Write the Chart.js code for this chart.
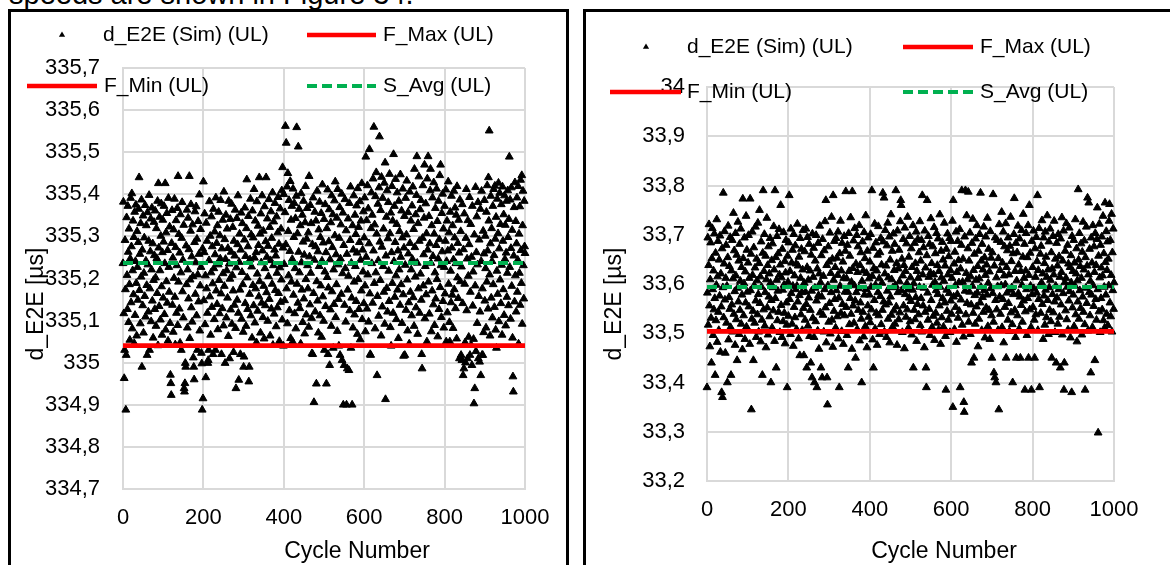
<!DOCTYPE html>
<html>
<head>
<meta charset="utf-8">
<title>d_E2E per cycle</title>
<script src="https://cdn.jsdelivr.net/npm/chart.js@4.4.1/dist/chart.umd.min.js"></script>
<style>
  html, body { margin: 0; padding: 0; background: #fff; }
  body { width: 1170px; height: 565px; overflow: hidden; position: relative;
         font-family: "Liberation Sans", Arial, Helvetica, sans-serif; }
  .lead { position: absolute; left: 9px; top: -20px; font-size: 29px; line-height: 29px;
          white-space: nowrap; color: #000; }
  .box { position: absolute; box-sizing: border-box; border: 3px solid #000; border-bottom: none; }
  #boxL { left: 8px; top: 9px; width: 561px; height: 600px; }
  #boxR { left: 583px; top: 9px; width: 700px; height: 600px; border-right: none; }
  canvas { position: absolute; top: 0; }
  #chartL { left: 0; }
  #chartR { left: 583px; }
</style>
</head>
<body>
<div class="lead">speeds are shown in Figure 34.</div>
<div class="box" id="boxL"></div>
<div class="box" id="boxR"></div>
<canvas id="chartL" width="570" height="565"></canvas>
<canvas id="chartR" width="587" height="565"></canvas>
<script>
// Cycle axis (shared by both panels)
const cycleTicks = [0, 200, 400, 600, 800, 1000];
const cycleTickLabels = ['0', '200', '400', '600', '800', '1000'];

// Left panel: delay axis
const leftDelayTicks = [334.7, 334.8, 334.9, 335.0, 335.1, 335.2, 335.3, 335.4, 335.5, 335.6, 335.7];
const leftDelayTickLabels = ['334,7', '334,8', '334,9', '335', '335,1', '335,2', '335,3', '335,4', '335,5', '335,6', '335,7'];

// Left panel: simulated end-to-end delay per cycle (cycles 0..1000)
const leftSimDelay = [
  335.236, 335.382, 335.117, 334.963, 335.030, 335.291, 335.174, 334.888, 335.018, 335.345, 335.208, 335.127, 335.372, 335.263, 335.096, 335.318, 335.186, 335.054, 335.247, 335.391,
  335.143, 335.276, 335.402, 335.081, 335.219, 335.337, 335.162, 335.298, 335.046, 335.358, 335.113, 335.241, 335.375, 335.189, 335.064, 335.312, 335.227, 335.149, 335.286, 335.365,
  335.440, 335.172, 335.258, 335.093, 335.331, 335.204, 335.387, 334.990, 335.268, 335.136, 335.349, 335.071, 335.213, 335.297, 335.158, 335.374, 335.109, 335.242, 335.326, 335.184,
  335.018, 335.357, 335.233, 335.121, 335.289, 335.398, 335.030, 335.176, 335.264, 335.342, 335.098, 335.221, 335.368, 335.147, 335.283, 335.059, 335.196, 335.334, 335.255, 335.127,
  335.361, 335.202, 335.087, 335.319, 335.248, 335.165, 335.384, 335.041, 335.426, 335.273, 335.134, 335.346, 335.219, 335.102, 335.301, 335.378, 335.181, 335.066, 335.262, 335.339,
  335.154, 335.287, 335.372, 335.115, 335.236, 335.426, 335.078, 335.309, 335.193, 335.355, 335.142, 335.267, 335.052, 335.391, 335.227, 335.168, 335.323, 335.094, 334.971, 334.951,
  334.923, 335.284, 335.362, 335.137, 335.249, 335.073, 335.316, 335.201, 335.389, 335.156, 335.043, 335.274, 335.338, 335.118, 335.231, 335.367, 335.089, 335.443, 335.192, 335.305,
  335.128, 335.261, 335.047, 335.352, 335.214, 335.030, 335.296, 335.381, 335.169, 335.244, 335.107, 335.327, 334.939, 334.931, 334.951, 334.999, 334.990, 335.278, 335.186, 335.363,
  335.083, 335.221, 335.344, 335.152, 335.269, 335.443, 335.058, 335.197, 335.313, 335.376, 335.131, 335.252, 335.097, 335.328, 335.205, 335.012, 334.990, 334.960, 335.286, 335.359,
  335.163, 335.238, 335.371, 335.112, 335.294, 335.030, 335.209, 335.336, 335.145, 335.258, 335.399, 335.076, 335.183, 335.317, 335.227, 335.023, 334.998, 334.888, 335.271, 334.915,
  335.430, 335.148, 335.262, 335.354, 335.091, 335.207, 334.965, 335.332, 335.176, 335.289, 335.118, 334.999, 335.006, 335.030, 335.243, 335.383, 335.157, 335.301, 335.066, 335.214,
  335.347, 335.132, 335.276, 335.188, 335.020, 335.365, 335.224, 335.103, 335.311, 335.257, 335.030, 335.392, 335.171, 335.284, 335.139, 335.326, 335.079, 335.233, 335.358, 335.196,
  335.117, 335.302, 335.247, 335.386, 335.164, 335.020, 335.271, 335.129, 335.339, 335.212, 335.088, 335.406, 335.182, 335.293, 334.999, 335.246, 335.351, 335.107, 335.219, 335.318,
  335.154, 335.272, 335.063, 335.384, 335.235, 335.010, 335.199, 335.341, 335.126, 335.263, 335.377, 335.092, 335.208, 335.322, 335.171, 335.025, 335.289, 335.137, 335.254, 335.363,
  335.082, 334.939, 335.226, 335.343, 335.149, 335.281, 335.397, 335.118, 334.959, 335.239, 335.306, 335.173, 335.020, 335.268, 335.356, 335.104, 335.215, 335.331, 335.186, 335.073,
  334.990, 335.014, 335.292, 335.368, 335.141, 335.253, 335.087, 335.319, 335.435, 335.202, 335.127, 335.276, 335.348, 334.955, 334.990, 335.163, 335.245, 335.389, 335.112, 335.304,
  335.228, 335.059, 335.361, 335.184, 335.297, 335.136, 335.412, 335.249, 335.095, 335.337, 335.176, 335.262, 335.048, 335.383, 335.211, 335.123, 335.325, 335.279, 335.157, 335.440,
  335.193, 335.306, 335.071, 335.354, 335.238, 335.142, 335.397, 335.266, 335.108, 335.313, 335.182, 335.057, 335.371, 335.224, 335.136, 335.288, 335.440, 335.167, 335.251, 335.342,
  335.099, 335.277, 335.205, 335.388, 335.151, 335.322, 335.064, 335.243, 335.359, 335.128, 335.296, 335.187, 335.404, 335.042, 335.231, 335.335, 335.116, 335.268, 335.379, 335.172,
  335.254, 335.086, 335.347, 335.213, 335.131, 335.309, 335.393, 335.165, 335.282, 335.051, 335.226, 335.366, 335.144, 335.318, 335.197, 335.409, 335.102, 335.464, 335.273, 335.040,
  335.400, 335.234, 335.148, 335.357, 335.562, 335.281, 335.522, 335.176, 335.418, 335.093, 335.450, 335.312, 335.207, 335.386, 335.124, 335.265, 335.431, 335.058, 335.339, 335.192,
  335.372, 335.246, 335.050, 335.413, 335.161, 335.298, 335.379, 335.117, 335.224, 335.343, 335.081, 335.396, 335.559, 335.187, 335.307, 335.142, 335.513, 335.263, 335.365, 335.214,
  335.129, 335.326, 335.045, 335.402, 335.238, 335.173, 335.351, 335.096, 335.287, 335.384, 335.152, 335.256, 335.069, 335.333, 335.419, 335.198, 335.114, 335.294, 335.367, 335.231,
  335.176, 335.309, 335.085, 335.443, 335.252, 335.138, 335.374, 335.213, 335.331, 335.106, 335.022, 335.281, 335.020, 335.392, 335.165, 334.906, 335.244, 335.358, 335.121, 335.276,
  335.337, 334.950, 335.193, 335.408, 335.147, 335.264, 335.071, 335.316, 335.229, 335.382, 335.112, 335.298, 335.183, 335.355, 335.061, 335.242, 335.423, 335.157, 335.285, 335.099,
  335.341, 335.030, 335.216, 335.376, 335.134, 335.262, 334.950, 335.319, 335.203, 335.411, 335.020, 335.178, 335.288, 335.364, 334.994, 335.245, 335.126, 335.333, 335.087, 335.397,
  335.169, 335.274, 335.352, 335.035, 335.221, 335.139, 335.385, 335.302, 335.430, 335.108, 335.257, 335.186, 335.344, 335.075, 335.412, 335.233, 335.151, 335.040, 335.296, 335.369,
  335.018, 335.247, 335.328, 335.163, 335.401, 335.006, 335.212, 335.356, 334.900, 335.279, 334.994, 335.137, 335.388, 335.224, 335.097, 335.314, 334.900, 335.258, 334.986, 335.173,
  335.342, 335.206, 334.982, 335.379, 335.124, 335.291, 335.418, 335.035, 335.237, 335.154, 334.900, 335.326, 335.083, 335.268, 335.397, 335.192, 335.114, 335.351, 335.229, 335.305,
  335.146, 335.373, 335.261, 335.068, 335.414, 335.198, 335.322, 335.127, 335.286, 335.383, 335.055, 335.244, 335.337, 335.171, 335.426, 335.103, 335.268, 335.216, 335.359, 335.141,
  335.297, 335.392, 335.183, 335.074, 335.489, 335.251, 335.338, 335.128, 335.421, 335.209, 335.366, 335.097, 335.283, 335.507, 335.164, 335.020, 335.018, 335.319, 335.404, 335.236,
  335.351, 335.142, 335.437, 335.266, 335.560, 335.189, 335.328, 335.081, 335.395, 335.214, 335.452, 335.306, 334.970, 335.158, 335.377, 335.243, 335.111, 335.416, 335.537, 335.287,
  335.196, 335.362, 335.064, 335.441, 335.275, 335.133, 335.391, 335.229, 335.318, 335.168, 335.427, 335.092, 335.475, 334.913, 335.254, 335.346, 335.177, 335.409, 335.121, 335.295,
  335.381, 335.218, 335.146, 335.448, 335.307, 335.084, 335.356, 335.040, 335.262, 335.419, 335.189, 335.337, 335.118, 335.495, 335.241, 335.372, 335.156, 335.286, 335.436, 335.207,
  335.103, 335.329, 335.404, 335.173, 335.266, 335.058, 335.384, 335.221, 335.312, 335.137, 335.447, 335.251, 335.186, 335.361, 335.094, 335.297, 335.413, 335.162, 335.016, 335.273,
  335.348, 335.018, 335.232, 335.391, 335.125, 335.304, 335.432, 335.197, 335.076, 335.357, 335.259, 335.143, 335.045, 335.406, 335.284, 335.168, 335.337, 335.221, 335.112, 335.373,
  335.246, 335.418, 335.155, 335.317, 335.087, 335.460, 335.274, 335.204, 335.352, 335.131, 335.398, 335.490, 335.237, 335.068, 335.331, 335.176, 335.442, 335.289, 335.118, 335.364,
  335.211, 335.386, 335.149, 335.020, 334.986, 335.296, 335.421, 335.183, 335.257, 335.344, 335.470, 335.105, 335.229, 335.378, 335.162, 335.307, 335.050, 335.437, 335.268, 335.490,
  335.192, 335.348, 335.116, 335.283, 335.409, 335.460, 335.237, 335.074, 335.326, 335.171, 335.392, 335.253, 335.138, 335.428, 335.306, 335.089, 335.214, 335.367, 335.152, 335.279,
  335.413, 335.198, 335.336, 335.062, 335.247, 335.384, 335.127, 335.293, 335.445, 335.179, 335.470, 335.231, 335.108, 335.355, 335.264, 335.401, 335.146, 335.318, 335.083, 335.227,
  335.372, 335.164, 335.289, 335.411, 335.050, 335.241, 335.337, 335.119, 335.266, 335.430, 335.187, 335.309, 335.096, 335.050, 335.358, 335.218, 335.143, 335.396, 335.273, 335.161,
  335.326, 335.082, 335.245, 335.408, 335.174, 335.297, 335.368, 335.129, 335.236, 335.351, 335.057, 335.419, 335.202, 335.284, 335.153, 335.339, 335.261, 335.010, 335.387, 335.193,
  335.312, 335.018, 335.228, 335.006, 335.376, 335.141, 334.970, 335.269, 334.986, 335.354, 335.187, 335.048, 335.000, 335.296, 335.412, 335.124, 335.247, 335.010, 335.338, 335.206,
  335.061, 335.281, 335.393, 335.018, 335.168, 335.329, 335.042, 335.251, 334.994, 335.372, 335.135, 335.216, 335.056, 334.903, 335.304, 334.939, 335.183, 335.417, 335.027, 335.262,
  335.347, 335.094, 335.233, 335.381, 335.010, 335.158, 335.292, 335.002, 335.121, 335.365, 334.970, 335.241, 335.408, 335.018, 335.176, 335.018, 335.313, 335.072, 335.259, 335.386,
  335.147, 335.301, 335.224, 335.083, 335.358, 335.192, 335.421, 335.266, 335.128, 335.440, 335.337, 335.551, 335.209, 335.064, 335.283, 335.396, 335.154, 335.319, 335.241, 335.107,
  335.372, 335.186, 335.412, 335.255, 335.132, 335.420, 335.294, 335.078, 335.346, 335.035, 335.218, 335.389, 335.163, 335.307, 335.427, 335.098, 335.271, 335.403, 335.197, 335.329,
  335.141, 335.376, 335.232, 335.066, 335.418, 335.289, 335.174, 335.352, 335.113, 335.397, 335.246, 335.327, 335.088, 335.261, 335.384, 335.156, 335.213, 335.409, 335.298, 335.136,
  335.341, 335.489, 335.227, 335.387, 335.104, 335.272, 335.416, 335.182, 335.315, 335.059, 334.967, 334.931, 335.254, 335.369, 335.145, 335.428, 335.207, 335.336, 335.121, 335.283,
  335.392, 335.168, 335.244, 335.419, 335.045, 335.306, 335.213, 335.371, 335.137, 335.434, 335.267, 335.189, 335.445, 335.092, 335.326, 335.408, 335.231, 335.152, 335.384, 335.276,
  335.260
];
const leftFMax = 335.04;
const leftFMin = 335.04;
const leftSAvg = 335.237;

// Right panel: delay axis
const rightDelayTicks = [33.2, 33.3, 33.4, 33.5, 33.6, 33.7, 33.8, 33.9, 34.0];
const rightDelayTickLabels = ['33,2', '33,3', '33,4', '33,5', '33,6', '33,7', '33,8', '33,9', '34'];

// Right panel: simulated end-to-end delay per cycle (cycles 0..1000)
const rightSimDelay = [
  33.390, 33.582, 33.694, 33.517, 33.638, 33.721, 33.556, 33.473, 33.609, 33.684, 33.531, 33.440, 33.652, 33.713, 33.589, 33.496, 33.627, 33.548, 33.702, 33.571,
  33.415, 33.663, 33.526, 33.598, 33.731, 33.482, 33.615, 33.687, 33.543, 33.506, 33.649, 33.576, 33.698, 33.462, 33.621, 33.554, 33.380, 33.672, 33.370, 33.593,
  33.785, 33.532, 33.641, 33.707, 33.568, 33.460, 33.612, 33.679, 33.521, 33.596, 33.400, 33.654, 33.718, 33.487, 33.573, 33.636, 33.549, 33.695, 33.512, 33.415,
  33.627, 33.558, 33.689, 33.503, 33.611, 33.744, 33.539, 33.668, 33.585, 33.476, 33.703, 33.617, 33.528, 33.659, 33.445, 33.592, 33.726, 33.564, 33.647, 33.498,
  33.681, 33.547, 33.606, 33.712, 33.519, 33.634, 33.578, 33.467, 33.773, 33.652, 33.536, 33.601, 33.694, 33.488, 33.625, 33.562, 33.738, 33.513, 33.669, 33.584,
  33.507, 33.643, 33.699, 33.554, 33.612, 33.478, 33.773, 33.587, 33.661, 33.345, 33.529, 33.706, 33.618, 33.545, 33.445, 33.674, 33.597, 33.521, 33.633, 33.716,
  33.566, 33.492, 33.651, 33.607, 33.538, 33.724, 33.579, 33.503, 33.642, 33.750, 33.561, 33.615, 33.483, 33.686, 33.594, 33.527, 33.415, 33.663, 33.790, 33.548,
  33.626, 33.701, 33.515, 33.583, 33.657, 33.471, 33.609, 33.734, 33.552, 33.638, 33.497, 33.676, 33.574, 33.621, 33.534, 33.693, 33.602, 33.400, 33.567, 33.648,
  33.511, 33.682, 33.593, 33.546, 33.717, 33.629, 33.484, 33.790, 33.571, 33.654, 33.430, 33.608, 33.697, 33.526, 33.586, 33.662, 33.543, 33.711, 33.619, 33.502,
  33.639, 33.760, 33.557, 33.613, 33.492, 33.671, 33.588, 33.524, 33.705, 33.598, 33.541, 33.646, 33.479, 33.623, 33.689, 33.562, 33.517, 33.390, 33.657, 33.604,
  33.535, 33.684, 33.780, 33.569, 33.626, 33.498, 33.712, 33.581, 33.643, 33.519, 33.669, 33.596, 33.474, 33.701, 33.553, 33.617, 33.532, 33.678, 33.589, 33.641,
  33.508, 33.596, 33.722, 33.564, 33.637, 33.489, 33.655, 33.577, 33.455, 33.693, 33.612, 33.538, 33.671, 33.583, 33.506, 33.629, 33.709, 33.551, 33.455, 33.602,
  33.666, 33.527, 33.584, 33.712, 33.559, 33.430, 33.634, 33.695, 33.515, 33.608, 33.572, 33.681, 33.494, 33.627, 33.547, 33.440, 33.659, 33.586, 33.410, 33.702,
  33.531, 33.614, 33.673, 33.492, 33.400, 33.592, 33.647, 33.524, 33.699, 33.566, 33.390, 33.631, 33.505, 33.683, 33.577, 33.468, 33.621, 33.718, 33.542, 33.603,
  33.430, 33.658, 33.574, 33.410, 33.691, 33.537, 33.616, 33.503, 33.668, 33.589, 33.727, 33.552, 33.770, 33.481, 33.638, 33.410, 33.355, 33.597, 33.676, 33.523,
  33.645, 33.561, 33.704, 33.499, 33.622, 33.583, 33.736, 33.527, 33.651, 33.472, 33.780, 33.608, 33.545, 33.687, 33.569, 33.634, 33.511, 33.693, 33.587, 33.653,
  33.534, 33.618, 33.706, 33.489, 33.572, 33.390, 33.662, 33.596, 33.728, 33.541, 33.627, 33.504, 33.683, 33.559, 33.645, 33.478, 33.612, 33.697, 33.536, 33.584,
  33.667, 33.788, 33.553, 33.611, 33.496, 33.679, 33.584, 33.430, 33.703, 33.626, 33.518, 33.657, 33.571, 33.735, 33.539, 33.604, 33.468, 33.788, 33.632, 33.556,
  33.688, 33.521, 33.597, 33.713, 33.566, 33.450, 33.641, 33.583, 33.699, 33.508, 33.624, 33.676, 33.547, 33.591, 33.719, 33.485, 33.638, 33.562, 33.664, 33.529,
  33.400, 33.606, 33.686, 33.543, 33.627, 33.493, 33.705, 33.578, 33.652, 33.514, 33.739, 33.589, 33.622, 33.471, 33.667, 33.556, 33.694, 33.533, 33.611, 33.578,
  33.645, 33.522, 33.701, 33.594, 33.548, 33.790, 33.616, 33.487, 33.673, 33.430, 33.632, 33.567, 33.722, 33.509, 33.598, 33.684, 33.541, 33.627, 33.476, 33.659,
  33.583, 33.717, 33.536, 33.611, 33.498, 33.664, 33.575, 33.693, 33.518, 33.639, 33.602, 33.547, 33.785, 33.686, 33.564, 33.775, 33.503, 33.621, 33.709, 33.558,
  33.637, 33.492, 33.678, 33.586, 33.724, 33.529, 33.613, 33.562, 33.696, 33.481, 33.649, 33.574, 33.741, 33.537, 33.609, 33.667, 33.513, 33.593, 33.702, 33.546,
  33.628, 33.681, 33.519, 33.597, 33.790, 33.554, 33.642, 33.476, 33.708, 33.583, 33.631, 33.528, 33.669, 33.605, 33.542, 33.727, 33.770, 33.760, 33.587, 33.651,
  33.502, 33.617, 33.691, 33.556, 33.638, 33.469, 33.714, 33.579, 33.626, 33.533, 33.682, 33.601, 33.548, 33.736, 33.589, 33.511, 33.655, 33.572, 33.697, 33.524,
  33.613, 33.565, 33.672, 33.497, 33.634, 33.588, 33.719, 33.430, 33.601, 33.547, 33.683, 33.528, 33.642, 33.573, 33.706, 33.484, 33.626, 33.559, 33.691, 33.612,
  33.538, 33.664, 33.594, 33.727, 33.516, 33.647, 33.571, 33.689, 33.503, 33.780, 33.619, 33.556, 33.674, 33.592, 33.471, 33.708, 33.543, 33.633, 33.430, 33.390,
  33.658, 33.770, 33.582, 33.527, 33.697, 33.614, 33.549, 33.681, 33.496, 33.623, 33.733, 33.567, 33.642, 33.512, 33.598, 33.676, 33.535, 33.619, 33.715, 33.486,
  33.604, 33.662, 33.541, 33.587, 33.703, 33.521, 33.638, 33.579, 33.692, 33.507, 33.626, 33.556, 33.741, 33.594, 33.478, 33.667, 33.613, 33.532, 33.685, 33.571,
  33.649, 33.513, 33.606, 33.724, 33.562, 33.637, 33.494, 33.385, 33.671, 33.588, 33.545, 33.702, 33.619, 33.527, 33.656, 33.581, 33.693, 33.502, 33.628, 33.566,
  33.687, 33.539, 33.612, 33.728, 33.350, 33.770, 33.574, 33.641, 33.508, 33.665, 33.597, 33.553, 33.706, 33.482, 33.624, 33.579, 33.687, 33.531, 33.648, 33.603,
  33.545, 33.711, 33.390, 33.631, 33.568, 33.679, 33.790, 33.517, 33.604, 33.651, 33.493, 33.360, 33.340, 33.696, 33.586, 33.790, 33.538, 33.622, 33.739, 33.561,
  33.609, 33.672, 33.787, 33.523, 33.647, 33.584, 33.704, 33.498, 33.615, 33.558, 33.440, 33.683, 33.596, 33.732, 33.541, 33.628, 33.450, 33.661, 33.577, 33.519,
  33.692, 33.608, 33.554, 33.719, 33.582, 33.636, 33.473, 33.667, 33.529, 33.611, 33.701, 33.562, 33.785, 33.594, 33.647, 33.506, 33.681, 33.573, 33.629, 33.543,
  33.716, 33.587, 33.654, 33.491, 33.618, 33.696, 33.552, 33.639, 33.578, 33.734, 33.514, 33.602, 33.671, 33.547, 33.625, 33.488, 33.707, 33.591, 33.653, 33.536,
  33.450, 33.664, 33.581, 33.782, 33.523, 33.420, 33.637, 33.410, 33.694, 33.567, 33.400, 33.613, 33.548, 33.689, 33.595, 33.506, 33.652, 33.345, 33.721, 33.574,
  33.628, 33.539, 33.685, 33.597, 33.746, 33.512, 33.643, 33.569, 33.706, 33.481, 33.617, 33.676, 33.553, 33.599, 33.723, 33.450, 33.634, 33.582, 33.668, 33.527,
  33.694, 33.561, 33.619, 33.504, 33.677, 33.588, 33.736, 33.542, 33.646, 33.593, 33.518, 33.400, 33.662, 33.579, 33.701, 33.774, 33.547, 33.626, 33.492, 33.683,
  33.450, 33.607, 33.664, 33.536, 33.718, 33.581, 33.639, 33.509, 33.692, 33.574, 33.450, 33.626, 33.557, 33.709, 33.598, 33.523, 33.655, 33.742, 33.566, 33.612,
  33.681, 33.385, 33.544, 33.627, 33.703, 33.589, 33.496, 33.654, 33.571, 33.719, 33.450, 33.618, 33.760, 33.548, 33.663, 33.596, 33.512, 33.385, 33.687, 33.579,
  33.634, 33.553, 33.708, 33.591, 33.527, 33.450, 33.672, 33.614, 33.538, 33.695, 33.582, 33.646, 33.780, 33.506, 33.628, 33.569, 33.713, 33.390, 33.597, 33.661,
  33.541, 33.677, 33.603, 33.729, 33.559, 33.621, 33.488, 33.694, 33.576, 33.642, 33.517, 33.706, 33.588, 33.655, 33.532, 33.614, 33.739, 33.567, 33.629, 33.498,
  33.686, 33.593, 33.547, 33.712, 33.608, 33.524, 33.664, 33.450, 33.631, 33.579, 33.697, 33.542, 33.619, 33.728, 33.564, 33.502, 33.651, 33.596, 33.440, 33.683,
  33.572, 33.637, 33.519, 33.701, 33.589, 33.656, 33.533, 33.614, 33.430, 33.692, 33.558, 33.624, 33.735, 33.497, 33.647, 33.581, 33.708, 33.385, 33.440, 33.603,
  33.667, 33.546, 33.612, 33.723, 33.528, 33.594, 33.679, 33.507, 33.641, 33.566, 33.714, 33.585, 33.634, 33.491, 33.658, 33.603, 33.380, 33.697, 33.552, 33.626,
  33.578, 33.689, 33.514, 33.643, 33.596, 33.731, 33.538, 33.621, 33.672, 33.483, 33.607, 33.564, 33.792, 33.649, 33.529, 33.703, 33.587, 33.636, 33.551, 33.682,
  33.612, 33.497, 33.665, 33.574, 33.726, 33.543, 33.629, 33.688, 33.518, 33.385, 33.654, 33.592, 33.716, 33.561, 33.637, 33.775, 33.505, 33.619, 33.765, 33.583,
  33.671, 33.536, 33.606, 33.420, 33.694, 33.578, 33.643, 33.512, 33.719, 33.597, 33.555, 33.676, 33.624, 33.445, 33.703, 33.569, 33.638, 33.527, 33.691, 33.755,
  33.589, 33.298, 33.657, 33.544, 33.722, 33.613, 33.502, 33.679, 33.571, 33.633, 33.696, 33.548, 33.617, 33.738, 33.526, 33.662, 33.594, 33.511, 33.765, 33.644,
  33.578, 33.707, 33.539, 33.628, 33.686, 33.516, 33.651, 33.597, 33.728, 33.762, 33.562, 33.689, 33.534, 33.618, 33.742, 33.503, 33.664, 33.587, 33.712, 33.549,
  33.603
];
const rightFMax = 33.504;
const rightFMin = 33.504;
const rightSAvg = 33.594;

const FONT = '"Liberation Sans", Arial, Helvetica, sans-serif';
const GRID = '#d9d9d9';

// Two-row legend drawn inside the chart box, above the plot
const panelLegend = {
  id: 'panelLegend',
  afterDraw(chart, args, opts) {
    const ctx = chart.ctx;
    ctx.save();
    ctx.font = '21px ' + FONT;
    ctx.textBaseline = 'middle';
    ctx.textAlign = 'left';
    for (const it of opts.items) {
      const ds = chart.data.datasets[it.dataset];
      if (ds.showLine) {
        ctx.strokeStyle = ds.borderColor;
        ctx.lineWidth = ds.borderWidth;
        ctx.lineCap = 'butt';
        ctx.setLineDash(ds.borderDash || []);
        ctx.beginPath();
        ctx.moveTo(it.x0, it.y);
        ctx.lineTo(it.x1, it.y);
        ctx.stroke();
        ctx.setLineDash([]);
      } else {
        const cx = (it.x0 + it.x1) / 2, r = 3.6;
        ctx.fillStyle = ds.pointBackgroundColor;
        ctx.beginPath();
        ctx.moveTo(cx, it.y - r);
        ctx.lineTo(cx + r * 0.866, it.y + r / 2);
        ctx.lineTo(cx - r * 0.866, it.y + r / 2);
        ctx.closePath();
        ctx.fill();
      }
      ctx.fillStyle = '#000';
      ctx.fillText(ds.label, it.tx, it.y);
    }
    ctx.restore();
  }
};

// Axis titles placed at fixed spots of the chart box
const panelTitles = {
  id: 'panelTitles',
  afterDraw(chart, args, o) {
    const ctx = chart.ctx;
    ctx.save();
    ctx.font = '23px ' + FONT;
    ctx.fillStyle = '#000';
    ctx.textAlign = 'center';
    ctx.textBaseline = 'middle';
    ctx.fillText(o.x.text, o.x.cx, o.x.cy);
    ctx.translate(o.y.cx, o.y.cy);
    ctx.rotate(-Math.PI / 2);
    ctx.fillText(o.y.text, 0, 0);
    ctx.restore();
  }
};

function buildPanel(canvasId, d, lay) {
  const points = d.sim.map((v, i) => ({ x: i, y: v }));
  const level = v => [{ x: cycleTicks[0], y: v }, { x: cycleTicks[cycleTicks.length - 1], y: v }];
  const tickFont = { family: FONT, size: 22 };
  return new Chart(document.getElementById(canvasId), {
    type: 'scatter',
    data: {
      datasets: [
        // markers sit underneath the reference lines
        { label: 'd_E2E (Sim) (UL)', data: points, showLine: false, clip: false, order: 1,
          pointStyle: 'triangle', pointRadius: 4.5, pointHoverRadius: 4.5,
          pointBackgroundColor: '#000', pointBorderColor: '#000', pointBorderWidth: 1 },
        { label: 'F_Max (UL)', data: level(d.fMax), showLine: true, borderColor: '#ff0000', order: 0,
          borderWidth: 4.5, pointRadius: 0, borderCapStyle: 'butt' },
        { label: 'F_Min (UL)', data: level(d.fMin), showLine: true, borderColor: '#ff0000', order: 0,
          borderWidth: 4.5, pointRadius: 0, borderCapStyle: 'butt' },
        { label: 'S_Avg (UL)', data: level(d.sAvg), showLine: true, borderColor: '#00b050', order: 0,
          borderWidth: 4, borderDash: [10, 5], pointRadius: 0, borderCapStyle: 'butt' }
      ]
    },
    options: {
      responsive: false,
      animation: false,
      devicePixelRatio: 1,
      events: [],
      layout: { padding: { left: 0, top: lay.top, right: lay.right, bottom: 0 } },
      plugins: {
        legend: { display: false },
        tooltip: { enabled: false },
        panelLegend: { items: lay.legend },
        panelTitles: lay.titles
      },
      scales: {
        x: {
          type: 'linear',
          min: cycleTicks[0],
          max: cycleTicks[cycleTicks.length - 1],
          afterBuildTicks: a => { a.ticks = cycleTicks.map(v => ({ value: v })); },
          afterFit: a => { a.height = lay.xAxisHeight; },
          ticks: { autoSkip: false, maxRotation: 0, minRotation: 0, padding: 16, color: '#000',
                   font: tickFont, callback: (v, i) => cycleTickLabels[i] },
          grid: { color: GRID, lineWidth: 2, drawTicks: false },
          border: { color: GRID, width: 2 }
        },
        y: {
          type: 'linear',
          min: d.ticks[0],
          max: d.ticks[d.ticks.length - 1],
          afterBuildTicks: a => { a.ticks = d.ticks.map(v => ({ value: v })); },
          afterFit: a => { a.width = lay.yAxisWidth; },
          ticks: { autoSkip: false, padding: lay.yTickPad, color: '#000',
                   font: tickFont, callback: (v, i) => d.tickLabels[i] },
          grid: { color: GRID, lineWidth: 2, drawTicks: false },
          border: { color: GRID, width: 2 }
        }
      }
    },
    plugins: [panelLegend, panelTitles]
  });
}

buildPanel('chartL',
  { sim: leftSimDelay, fMax: leftFMax, fMin: leftFMin, sAvg: leftSAvg,
    ticks: leftDelayTicks, tickLabels: leftDelayTickLabels },
  { top: 68, right: 45, xAxisHeight: 76, yAxisWidth: 123, yTickPad: 23,
    legend: [
      { dataset: 0, x0: 55, x1: 69, y: 35, tx: 103 },
      { dataset: 1, x0: 307, x1: 376, y: 35, tx: 383 },
      { dataset: 2, x0: 27, x1: 97, y: 86, tx: 104 },
      { dataset: 3, x0: 307, x1: 376, y: 86, tx: 383 }
    ],
    titles: { x: { text: 'Cycle Number', cx: 357, cy: 552 },
              y: { text: 'd_E2E [µs]', cx: 37, cy: 304 } } });

buildPanel('chartR',
  { sim: rightSimDelay, fMax: rightFMax, fMin: rightFMin, sAvg: rightSAvg,
    ticks: rightDelayTicks, tickLabels: rightDelayTickLabels },
  { top: 87, right: 56, xAxisHeight: 84, yAxisWidth: 124, yTickPad: 22,
    legend: [
      { dataset: 0, x0: 56, x1: 70, y: 47, tx: 104 },
      { dataset: 1, x0: 320, x1: 390, y: 47, tx: 397 },
      { dataset: 2, x0: 27, x1: 98, y: 92, tx: 104 },
      { dataset: 3, x0: 320, x1: 390, y: 92, tx: 397 }
    ],
    titles: { x: { text: 'Cycle Number', cx: 361, cy: 552 },
              y: { text: 'd_E2E [µs]', cx: 32, cy: 304 } } });
</script>
</body>
</html>
